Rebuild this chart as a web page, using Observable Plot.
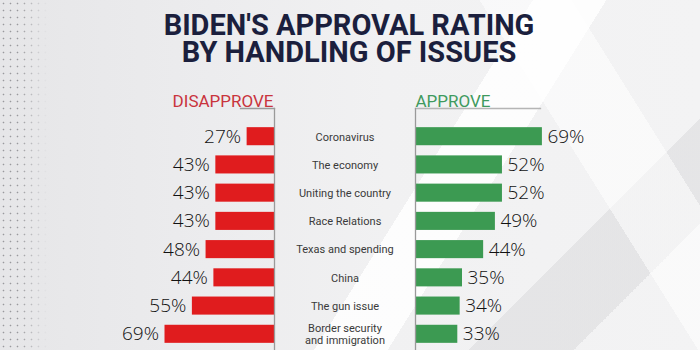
<!DOCTYPE html>
<html>
<head>
<meta charset="utf-8">
<script src="https://cdn.jsdelivr.net/npm/d3@7"></script>
<script src="https://cdn.jsdelivr.net/npm/@observablehq/plot@0.6"></script>
<style>
  html, body { margin: 0; padding: 0; }
  #wrap {
    position: relative; width: 700px; height: 350px; overflow: hidden;
    background:
      linear-gradient(122deg, rgba(255,255,255,0) 58%, rgba(255,255,255,0.85) 58%, rgba(255,255,255,0.85) 66%, rgba(255,255,255,0) 66%),
      linear-gradient(58deg, rgba(255,255,255,0) 76%, rgba(255,255,255,0.55) 76%, rgba(255,255,255,0.55) 86%, rgba(255,255,255,0) 86%),
      linear-gradient(135deg, rgba(255,255,255,0) 78%, rgba(220,220,222,0.6) 78%, rgba(220,220,222,0.6) 88%, rgba(255,255,255,0) 88%),
      linear-gradient(90deg, #e6e6e8 0%, #ececee 30%, #f1f1f2 55%, #f3f3f4 100%);
    font-family: Roboto, "Open Sans", sans-serif;
  }
  #dots {
    position: absolute; left: 0; top: 0; width: 48px; height: 350px;
    background-image: radial-gradient(circle, rgba(90,90,95,0.55) 0.7px, rgba(0,0,0,0) 1.1px);
    background-size: 7px 7px;
    -webkit-mask-image: linear-gradient(90deg, #000 40%, rgba(0,0,0,0) 100%);
    mask-image: linear-gradient(90deg, #000 40%, rgba(0,0,0,0) 100%);
  }
  #wrap svg { position: absolute; left: 0; top: 0; }
  .title {
    position: absolute; left: 0; width: 698px; text-align: center;
    font-family: Roboto, sans-serif; font-weight: 700; font-size: 29px; line-height: 27px; height: 27px;
    color: #1b1f3d; letter-spacing: 0px; white-space: nowrap;
  }
</style>
</head>
<body>
<div id="wrap">
  <div id="dots"></div>
  <div class="title" style="top:12px">BIDEN'S APPROVAL RATING</div>
  <div class="title" style="top:39px">BY HANDLING OF ISSUES</div>
</div>
<script>
const issues = ["Coronavirus", "The economy", "Uniting the country", "Race Relations",
  "Texas and spending", "China", "The gun issue", "Border security\nand immigration"];
const disapprove = [27, 43, 43, 43, 48, 44, 55, 69];
const approve = [69, 52, 52, 49, 44, 35, 34, 33];
const headers = ["DISAPPROVE", "APPROVE"];

const rows = issues.map((issue, i) => ({issue, disapprove: disapprove[i], approve: approve[i]}));

const W = 700, H = 350;
const yScale = {type: "band", domain: issues, range: [117, 353], padding: 0.36, round: false, axis: null};
const common = {width: W, height: H, style: {background: "transparent", overflow: "visible"}};
const dDomain = [13, 80], aDomain = [15, 80];
const pctFont = {fontSize: 19, fill: "#111", fontFamily: "'Open Sans', sans-serif", fontWeight: 300};

const left = Plot.plot({
  ...common,
  marginLeft: 240, marginRight: W - 274, marginTop: 108, marginBottom: 0,
  x: {domain: dDomain, range: [274, 143], axis: null},
  y: yScale,
  marks: [
    Plot.barX(rows, {x1: () => dDomain[0], x2: "disapprove", y: "issue", fill: "#e01c1e"}),
    Plot.text(rows, {x: "disapprove", y: "issue", text: d => d.disapprove + "%", textAnchor: "end", dx: -6, ...pctFont}),
    Plot.frame({anchor: "top", stroke: "#9a9a9a", strokeWidth: 1.3}),
    Plot.frame({anchor: "right", stroke: "#9a9a9a", strokeWidth: 1.3}),
    Plot.text([headers[0]], {frameAnchor: "top-right", textAnchor: "end", lineAnchor: "bottom", dy: -2, dx: -1,
      fontSize: 17, fill: "#c9343d", fontFamily: "Roboto, sans-serif", letterSpacing: "-0.5px"})
  ]
});

const middle = Plot.plot({
  ...common,
  marginLeft: 274, marginRight: W - 415, marginTop: 108, marginBottom: 0,
  y: yScale,
  marks: [
    Plot.text(rows, {y: "issue", text: "issue", fontSize: 11, fill: "#3a3a3a", lineHeight: 1.1,
      fontFamily: "Roboto, sans-serif"})
  ]
});

const right = Plot.plot({
  ...common,
  marginLeft: 415, marginRight: W - 540, marginTop: 108, marginBottom: 0,
  x: {domain: aDomain, range: [415, 415 + 65 * 2.35], axis: null},
  y: yScale,
  marks: [
    Plot.barX(rows, {x1: () => aDomain[0], x2: "approve", y: "issue", fill: "#3c9a52"}),
    Plot.text(rows, {x: "approve", y: "issue", text: d => d.approve + "%", textAnchor: "start", dx: 5, ...pctFont}),
    Plot.frame({anchor: "top", stroke: "#b5b5b5", strokeWidth: 1.3}),
    Plot.frame({anchor: "left", stroke: "#9a9a9a", strokeWidth: 1.3}),
    Plot.text([headers[1]], {frameAnchor: "top-left", textAnchor: "start", lineAnchor: "bottom", dy: -2,
      fontSize: 17, fill: "#3f9a5e", fontFamily: "Roboto, sans-serif", letterSpacing: "-0.5px"})
  ]
});

const wrap = document.getElementById("wrap");
wrap.appendChild(left);
wrap.appendChild(middle);
wrap.appendChild(right);
</script>
</body>
</html>
